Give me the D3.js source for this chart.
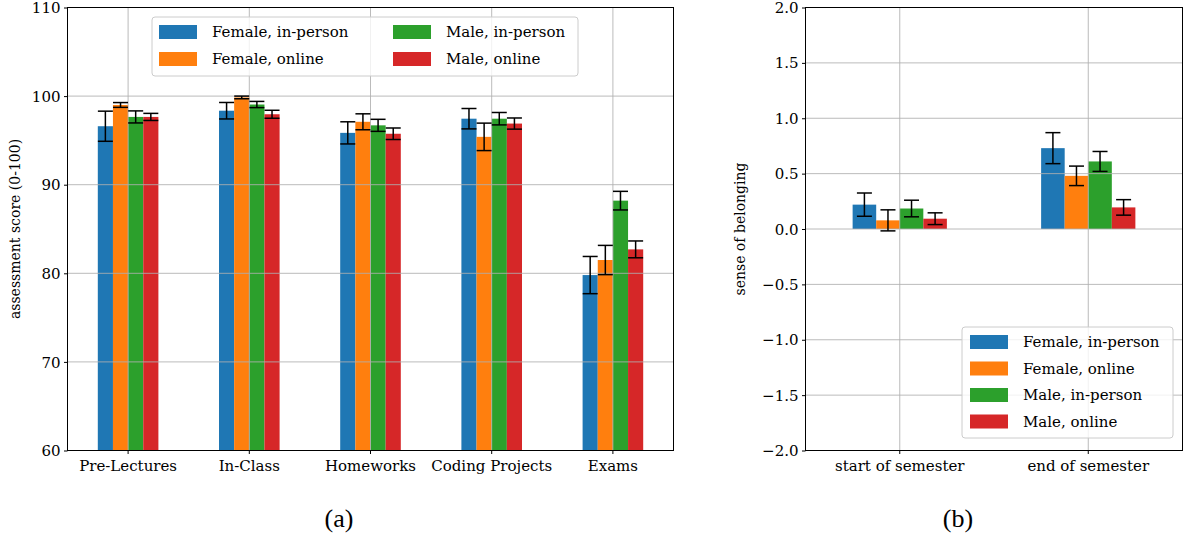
<!DOCTYPE html>
<html>
<head>
<meta charset="utf-8">
<script src="https://cdn.jsdelivr.net/npm/d3@7"></script>
<style>
  body { margin: 0; background: #fff; }
  svg text { font-family: "DejaVu Serif", serif; fill: #000; }
</style>
</head>
<body>
<div id="chart"></div>
<script>
// ---- data (a) assessment scores ----
var categoriesA = ["Pre-Lectures", "In-Class", "Homeworks", "Coding Projects", "Exams"];
var seriesNames = ["Female, in-person", "Female, online", "Male, in-person", "Male, online"];
var seriesColors = ["#1f77b4", "#ff7f0e", "#2ca02c", "#d62728"];

var scoreFemaleInPerson = [96.6, 98.35, 95.85, 97.45, 79.8];
var scoreFemaleOnline   = [99.0, 99.85, 97.1, 95.4, 81.5];
var scoreMaleInPerson   = [97.65, 99.05, 96.7, 97.45, 88.2];
var scoreMaleOnline     = [97.65, 97.95, 95.75, 96.9, 82.7];
var errFemaleInPerson = [1.7, 0.93, 1.25, 1.15, 2.1];
var errFemaleOnline   = [0.27, 0.15, 0.9, 1.55, 1.65];
var errMaleInPerson   = [0.68, 0.35, 0.68, 0.7, 1.05];
var errMaleOnline     = [0.4, 0.45, 0.65, 0.63, 0.95];
var yTicksA = [60, 70, 80, 90, 100, 110];

// ---- data (b) sense of belonging ----
var categoriesB = ["start of semester", "end of semester"];
var belongFemaleInPerson = [0.22, 0.73];
var belongFemaleOnline   = [0.078, 0.48];
var belongMaleInPerson   = [0.185, 0.61];
var belongMaleOnline     = [0.093, 0.195];
var errBFemaleInPerson = [0.105, 0.14];
var errBFemaleOnline   = [0.095, 0.088];
var errBMaleInPerson   = [0.075, 0.09];
var errBMaleOnline     = [0.053, 0.07];
var yTicksB = [-2, -1.5, -1, -0.5, 0, 0.5, 1, 1.5, 2];

var svg = d3.select("#chart").append("svg")
  .attr("width", 1183)
  .attr("height", 540);

function drawPanel(opt) {
  var g = svg.append("g");
  var x = d3.scaleBand()
    .domain(opt.categories)
    .range([opt.left, opt.right])
    .paddingInner(0.5)
    .paddingOuter(0.25);
  var xs = d3.scaleBand()
    .domain(seriesNames)
    .range([0, x.bandwidth()]);
  var y = d3.scaleLinear()
    .domain(opt.yDomain)
    .range([opt.bottom, opt.top]);

  // bars
  opt.values.forEach(function(vals, j) {
    g.selectAll(null)
      .data(vals)
      .enter()
      .append("rect")
      .attr("x", (d, i) => x(opt.categories[i]) + xs(seriesNames[j]))
      .attr("width", xs.bandwidth())
      .attr("y", d => y(Math.max(d, opt.base)))
      .attr("height", d => Math.abs(y(d) - y(opt.base)))
      .attr("fill", seriesColors[j]);
  });

  // grid (drawn over bars like matplotlib)
  g.selectAll(null)
    .data(opt.yTicks)
    .enter()
    .append("line")
    .attr("x1", opt.left).attr("x2", opt.right)
    .attr("y1", d => y(d)).attr("y2", d => y(d))
    .attr("stroke", "#b0b0b0").attr("stroke-width", 1).attr("opacity", 0.85);
  g.selectAll(null)
    .data(opt.categories)
    .enter()
    .append("line")
    .attr("x1", d => x(d) + x.bandwidth() / 2).attr("x2", d => x(d) + x.bandwidth() / 2)
    .attr("y1", opt.top).attr("y2", opt.bottom)
    .attr("stroke", "#b0b0b0").attr("stroke-width", 1).attr("opacity", 0.85);

  // error bars
  opt.values.forEach(function(vals, j) {
    var errs = opt.errors[j];
    vals.forEach(function(v, i) {
      var cx = x(opt.categories[i]) + xs(seriesNames[j]) + xs.bandwidth() / 2;
      var y1 = y(v + errs[i]), y2 = y(v - errs[i]);
      g.append("line")
        .attr("x1", cx).attr("x2", cx).attr("y1", y1).attr("y2", y2)
        .attr("stroke", "#000").attr("stroke-width", 1.5);
      [y1, y2].forEach(function(yy) {
        g.append("line")
          .attr("x1", cx - 7.5).attr("x2", cx + 7.5).attr("y1", yy).attr("y2", yy)
          .attr("stroke", "#000").attr("stroke-width", 1.5);
      });
    });
  });

  // axes
  var yAxis = d3.axisLeft(y)
    .tickValues(opt.yTicks)
    .tickSize(3.5)
    .tickPadding(3.5)
    .tickFormat(opt.yFormat);
  var ya = g.append("g")
    .attr("transform", `translate(${opt.left},0)`)
    .call(yAxis);
  var xAxis = d3.axisBottom(x).tickSize(3.5).tickPadding(4);
  var xa = g.append("g")
    .attr("transform", `translate(0,${opt.bottom})`)
    .call(xAxis);
  [ya, xa].forEach(function(a) {
    a.select(".domain").remove();
    a.selectAll("line").attr("stroke", "#000").attr("stroke-width", 1);
    a.selectAll("text").attr("font-size", 15).attr("font-family", "DejaVu Serif");
  });
  ya.selectAll("text").attr("dy", "0.34em");
  xa.selectAll("text").attr("dy", "0.85em");

  // frame
  g.append("rect")
    .attr("x", opt.left).attr("y", opt.top)
    .attr("width", opt.right - opt.left).attr("height", opt.bottom - opt.top)
    .attr("fill", "none").attr("stroke", "#000").attr("stroke-width", 1);

  // y label
  g.append("text")
    .attr("transform", `translate(${opt.ylabelX},${(opt.top + opt.bottom) / 2}) rotate(-90)`)
    .attr("text-anchor", "middle")
    .attr("font-size", 14)
    .text(opt.ylabel);

  // legend
  var lg = g.append("g").attr("transform", `translate(${opt.legend.x},${opt.legend.y})`);
  lg.append("rect")
    .attr("width", opt.legend.w).attr("height", opt.legend.h)
    .attr("rx", 3)
    .attr("fill", "#fff").attr("fill-opacity", 0.8)
    .attr("stroke", "#cccccc").attr("stroke-width", 1);
  seriesNames.forEach(function(name, j) {
    var pos = opt.legend.pos(j);
    lg.append("rect")
      .attr("x", pos[0]).attr("y", pos[1] - 7)
      .attr("width", 38).attr("height", 14)
      .attr("fill", seriesColors[j]);
    lg.append("text")
      .attr("x", pos[0] + 53).attr("y", pos[1])
      .attr("dy", "0.35em")
      .attr("font-size", 15)
      .text(name);
  });

  // caption
  svg.append("text")
    .attr("x", opt.captionX).attr("y", 527)
    .attr("text-anchor", "middle")
    .attr("font-family", "Liberation Serif")
    .style("font-family", "Liberation Serif")
    .attr("font-size", 26)
    .text(opt.caption);
}

drawPanel({
  categories: categoriesA,
  values: [scoreFemaleInPerson, scoreFemaleOnline, scoreMaleInPerson, scoreMaleOnline],
  errors: [errFemaleInPerson, errFemaleOnline, errMaleInPerson, errMaleOnline],
  yDomain: [60, 110], yTicks: yTicksA, base: 60,
  yFormat: d3.format("d"),
  left: 67.5, right: 673.5, top: 7.5, bottom: 450.5,
  ylabel: "assessment score (0-100)", ylabelX: 20,
  legend: { x: 152, y: 17, w: 426, h: 59, pos: j => [7 + (j >> 1) * 234, 15 + (j % 2) * 27] },
  caption: "(a)", captionX: 339
});

drawPanel({
  categories: categoriesB,
  values: [belongFemaleInPerson, belongFemaleOnline, belongMaleInPerson, belongMaleOnline],
  errors: [errBFemaleInPerson, errBFemaleOnline, errBMaleInPerson, errBMaleOnline],
  yDomain: [-2, 2], yTicks: yTicksB, base: 0,
  yFormat: d3.format(".1f"),
  left: 805.5, right: 1182.5, top: 7.5, bottom: 450.5,
  ylabel: "sense of belonging", ylabelX: 745,
  legend: { x: 962, y: 327, w: 211, h: 111, pos: j => [8, 15 + j * 26.5] },
  caption: "(b)", captionX: 958
});
</script>
</body>
</html>
